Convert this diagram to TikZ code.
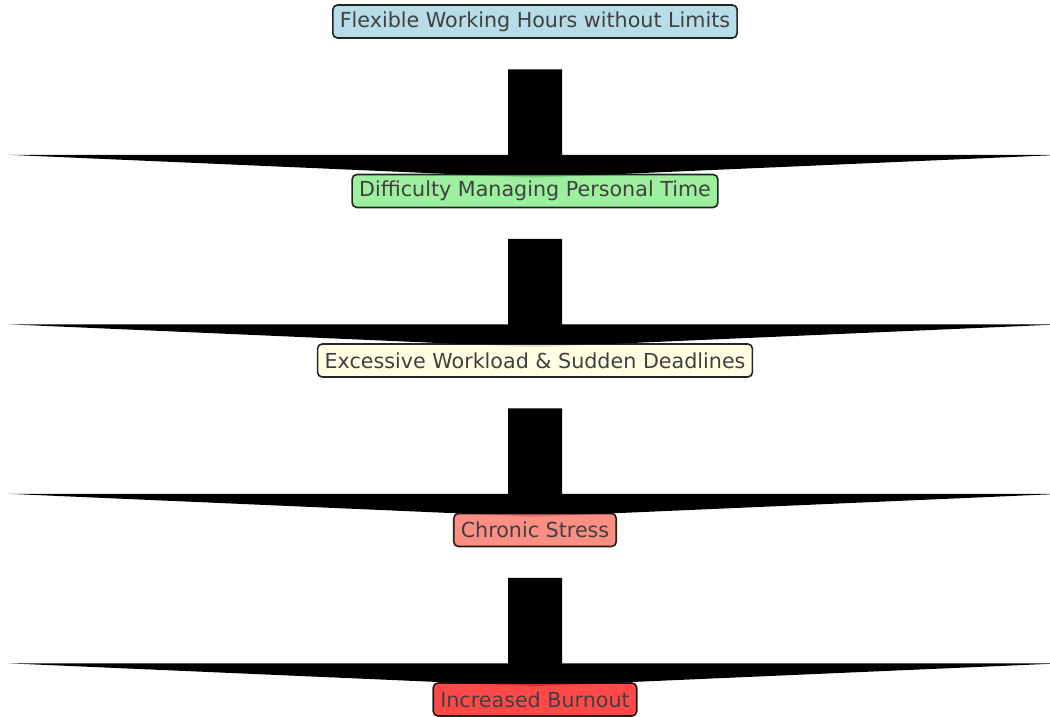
\documentclass[tikz,border=0pt]{standalone}
\usepackage{fontspec}
\setmainfont{DejaVu Sans}
\usetikzlibrary{calc,backgrounds}

\definecolor{lightblue}{HTML}{ADD8E6}
\definecolor{lightgreen}{HTML}{90EE90}
\definecolor{lightyellow}{HTML}{FFFFE0}
\definecolor{salmon}{HTML}{FA8072}
\definecolor{burnred}{HTML}{FF3030}

\tikzset{
  stagebox/.style={draw=black, line width=1.2pt, rounded corners=3.5pt,
    fill opacity=0.88, draw opacity=0.85, text opacity=1, text=black!75,
    inner xsep=5.25pt, inner ysep=0pt, minimum height=24.75pt,
    font=\fontsize{15.5pt}{18pt}\selectfont},
  bigarrow/.style={fill=black}
}

% 太い矢印(軸+幅の広い三角形)
\newcommand{\stagearrow}[2]{%
  \fill[bigarrow] ($(#1.south)+(-27,30.5)$) -- ($(#1.south)+(27,30.5)$)
    -- ($(#1.south)+(27,116)$) -- ($(#1.south)+(527,116)$)
    -- ($(#2.north)+(0,4)$)
    -- ($(#1.south)+(-527,116)$) -- ($(#1.south)+(-27,116)$) -- cycle;}

\begin{document}
\begin{tikzpicture}[x=0.75pt, y=-0.75pt]
  \useasboundingbox (0,0) rectangle (1050,717);
  \clip (0,0) rectangle (1050,717);

  % ラベル
  \node[stagebox, fill=lightblue] (flexible) at (535,21.5) {Flexible Working Hours without Limits};
  \node[stagebox, fill=lightgreen] (difficulty) at (535,191) {Difficulty Managing Personal Time};
  \node[stagebox, fill=lightyellow] (workload) at (535,360.5) {Excessive Workload \& Sudden Deadlines};
  \node[stagebox, fill=salmon] (stress) at (535,530) {Chronic Stress};
  \node[stagebox, fill=burnred] (burnout) at (535,699.5) {Increased Burnout};

  % 矢印はラベルの下に描く
  \begin{scope}[on background layer]
    \stagearrow{flexible}{difficulty}
    \stagearrow{difficulty}{workload}
    \stagearrow{workload}{stress}
    \stagearrow{stress}{burnout}
  \end{scope}
\end{tikzpicture}
\end{document}
